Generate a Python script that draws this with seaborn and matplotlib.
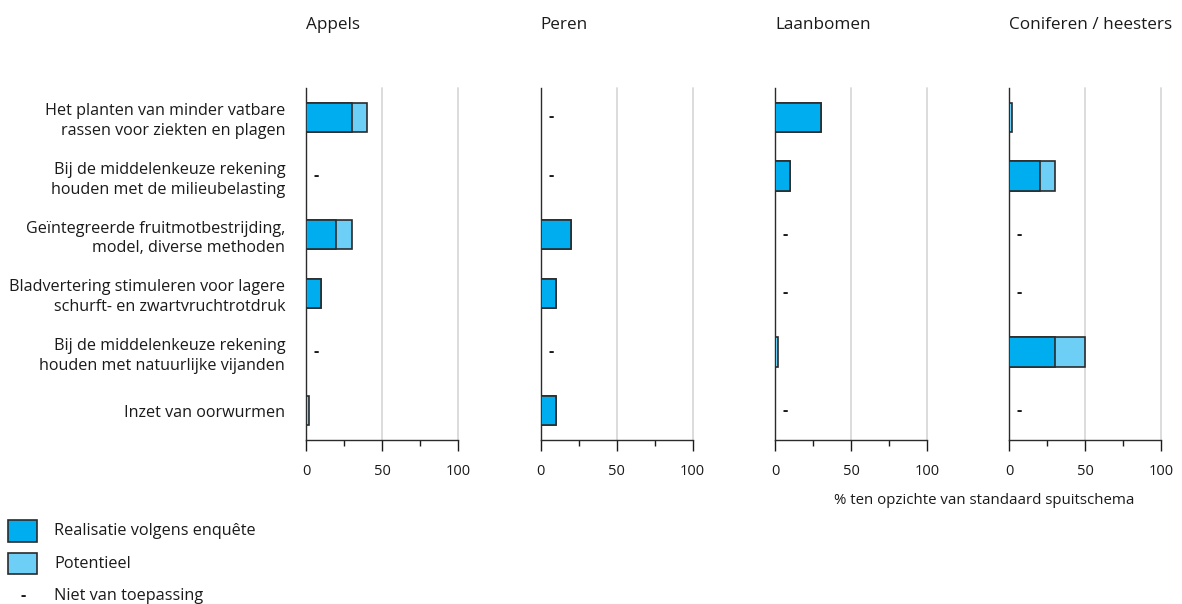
import numpy as np
import pandas as pd
import matplotlib
matplotlib.use("Agg")
import matplotlib.pyplot as plt
from matplotlib.patches import Rectangle
import seaborn as sns

# --- data -------------------------------------------------------------
maatregelen = [
    "Het planten van minder vatbare\nrassen voor ziekten en plagen",
    "Bij de middelenkeuze rekening\nhouden met de milieubelasting",
    "Geïntegreerde fruitmotbestrijding,\nmodel, diverse methoden",
    "Bladvertering stimuleren voor lagere\nschurft- en zwartvruchtrotdruk",
    "Bij de middelenkeuze rekening\nhouden met natuurlijke vijanden",
    "Inzet van oorwurmen",
]
teelten = ["Appels", "Peren", "Laanbomen", "Coniferen / heesters"]

# realisatie volgens enquête (%), None = niet van toepassing
realisatie_appels = [30, None, 20, 10, None, 0]
realisatie_peren = [None, None, 20, 10, None, 10]
realisatie_laanbomen = [30, 10, None, None, 0, None]
realisatie_coniferen = [0, 20, None, None, 30, None]

# potentieel (%), totale lengte van de balk
potentieel_appels = [40, None, 30, 10, None, 2]
potentieel_peren = [None, None, 20, 10, None, 10]
potentieel_laanbomen = [30, 10, None, None, 2, None]
potentieel_coniferen = [2, 30, None, None, 50, None]

realisatie = [realisatie_appels, realisatie_peren, realisatie_laanbomen, realisatie_coniferen]
potentieel = [potentieel_appels, potentieel_peren, potentieel_laanbomen, potentieel_coniferen]

xticks = [0, 50, 100]
xlabel = "% ten opzichte van standaard spuitschema"
legend_labels = ["Realisatie volgens enquête", "Potentieel", "Niet van toepassing"]

# --- style ------------------------------------------------------------
DONKER = "#00aeef"
LICHT = "#6dcff6"
RAND = "#2b2b2b"
TEKST = "#1a1a1a"
GRID = "#d9d9d9"

sns.set_theme(style="white")
plt.rcParams["font.family"] = ["Open Sans", "DejaVu Sans"]
plt.rcParams["text.color"] = TEKST
plt.rcParams["xtick.color"] = TEKST
plt.rcParams["ytick.color"] = TEKST

W, H = 1182, 604
fig = plt.figure(figsize=(W / 100, H / 100), dpi=100)

axis_left = [306, 540.7, 775, 1009.3]
axis_w = 152
axis_top, axis_bottom = 88, 440

for k, teelt in enumerate(teelten):
    rect = [axis_left[k] / W, 1 - axis_bottom / H, axis_w / W, (axis_bottom - axis_top) / H]
    ax = fig.add_axes(rect)

    nvt = [r is None for r in realisatie[k]]
    df = pd.DataFrame({
        "maatregel": maatregelen * 2,
        "serie": ["Potentieel"] * 6 + ["Realisatie"] * 6,
        "waarde": [0 if v is None else v for v in potentieel[k]]
                  + [0 if v is None else v for v in realisatie[k]],
    })
    sns.barplot(
        data=df, x="waarde", y="maatregel", hue="serie", orient="h",
        hue_order=["Potentieel", "Realisatie"],
        palette={"Potentieel": LICHT, "Realisatie": DONKER},
        order=maatregelen, dodge=False, width=0.5, saturation=1,
        edgecolor=RAND, linewidth=1.2, legend=False, ax=ax, zorder=3,
    )

    for i, flag in enumerate(nvt):
        if flag:
            ax.text(5, i, "-", ha="left", va="center", fontsize=11.5,
                    fontweight="bold", color=TEKST)

    ax.set_xlim(0, 100)
    ax.set_ylim(5.5, -0.5)
    for g in (50, 100):
        ax.axvline(g, color=GRID, linewidth=1.3, zorder=0, clip_on=False)

    ax.set_xticks(xticks)
    ax.set_xticks([25, 75], minor=True)
    ax.tick_params(axis="x", which="major", length=8, width=1.0, pad=9,
                   labelsize=10.5, direction="out", bottom=True)
    ax.tick_params(axis="x", which="minor", length=4.5, width=1.0,
                   direction="out", bottom=True)
    ax.set_xlabel("")
    ax.set_ylabel("")

    for side in ("top", "right"):
        ax.spines[side].set_visible(False)
    for side in ("left", "bottom"):
        ax.spines[side].set_visible(True)
        ax.spines[side].set_color(RAND)
        ax.spines[side].set_linewidth(1.0)

    if k == 0:
        ax.tick_params(axis="y", length=0, pad=15, labelsize=11.6)
        for lbl in ax.get_yticklabels():
            lbl.set_linespacing(1.3)
            lbl.set_multialignment("right")
    else:
        ax.set_yticklabels([])
        ax.tick_params(axis="y", length=0)

    ax.text(0, 1.0 + (axis_top - 25) / (axis_bottom - axis_top), teelt,
            transform=ax.transAxes, ha="left", va="center", fontsize=12.3)

fig.text(1134 / W, 1 - 500 / H, xlabel, ha="right", va="center", fontsize=10.8)

# legend, laid out in pixels
def px(x, y):
    return x / W, 1 - y / H

for (y0, y1), kleur, label in [((520, 542), DONKER, legend_labels[0]),
                                ((553, 574), LICHT, legend_labels[1])]:
    x0, yb = px(8, y1)
    fig.add_artist(Rectangle((x0, yb), 29 / W, (y1 - y0) / H, transform=fig.transFigure,
                             facecolor=kleur, edgecolor=RAND, linewidth=1.2))
    fig.text(*px(54, (y0 + y1) / 2), label, ha="left", va="center", fontsize=11.7)

fig.text(*px(23, 596), "-", ha="center", va="center", fontsize=11.5, fontweight="bold")
fig.text(*px(54, 596), legend_labels[2], ha="left", va="center", fontsize=11.7)

fig.savefig("out.png", dpi=100)
